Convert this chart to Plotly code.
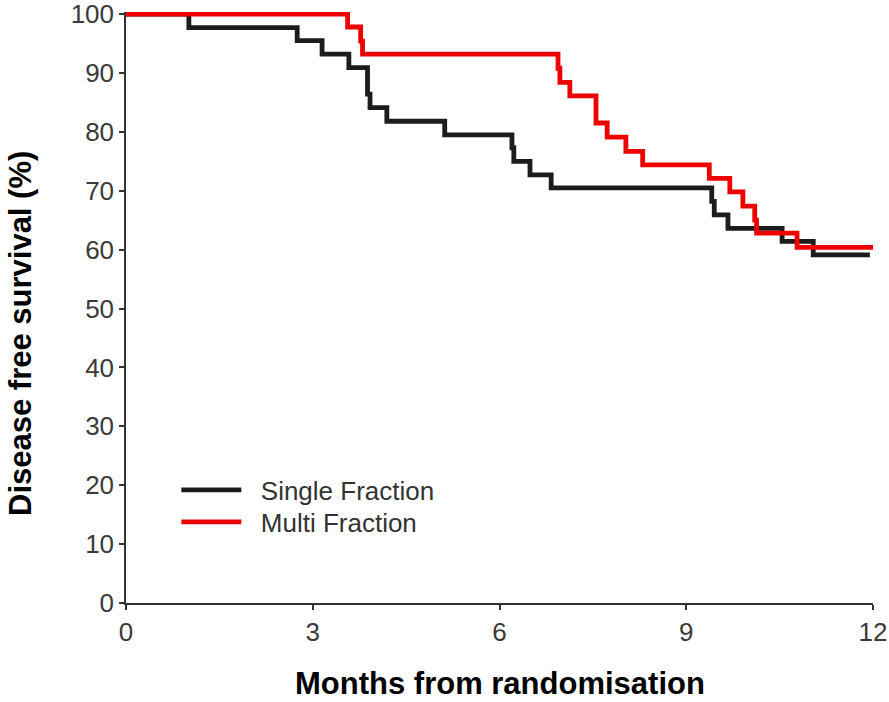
import plotly.graph_objects as go

# Kaplan-Meier step data (time in months, survival %)
single_time = [0, 1.01, 2.75, 3.15, 3.58, 3.88, 3.92, 4.19, 5.12, 6.20, 6.23, 6.49, 6.83, 9.41, 9.45, 9.67, 10.54, 11.04, 11.95]
single_surv = [100, 97.7, 95.5, 93.2, 90.9, 86.4, 84.1, 81.8, 79.5, 77.3, 75.0, 72.7, 70.5, 68.2, 65.9, 63.6, 61.4, 59.1, 59.1]

multi_time = [0, 3.56, 3.77, 3.80, 6.94, 6.97, 7.13, 7.55, 7.73, 8.03, 8.30, 9.37, 9.70, 9.91, 10.10, 10.13, 10.78, 12.0]
multi_surv = [100, 97.8, 95.4, 93.2, 90.8, 88.4, 86.1, 81.5, 79.1, 76.7, 74.4, 72.1, 69.8, 67.4, 65.0, 62.8, 60.4, 60.4]

series_names = ["Single Fraction", "Multi Fraction"]
x_ticks = [0, 3, 6, 9, 12]
y_ticks = [0, 10, 20, 30, 40, 50, 60, 70, 80, 90, 100]

FONT = "Liberation Sans, Arial, sans-serif"
NB = "\u00a0\u00a0"

fig = go.Figure()
fig.add_trace(go.Scatter(x=single_time, y=single_surv, mode="lines", line_shape="hv",
                         name=NB + series_names[0], legend="legend",
                         line=dict(color="#1c1c1c", width=4.8)))
fig.add_trace(go.Scatter(x=multi_time, y=multi_surv, mode="lines", line_shape="hv",
                         name=NB + series_names[1], legend="legend2",
                         line=dict(color="#ee0000", width=4.8)))

axis_common = dict(showgrid=False, zeroline=False, showline=True, linecolor="#333333", linewidth=1.5,
                   ticks="outside", ticklen=5, tickwidth=1.5, tickcolor="#333333",
                   ticklabeloverflow="allow", automargin=False,
                   tickfont=dict(family=FONT, size=26, color="#3a3a3a"))

fig.update_xaxes(range=[0, 12], tickvals=x_ticks, ticktext=[str(v) for v in x_ticks], **axis_common)
fig.update_yaxes(range=[0, 100.35], tickvals=y_ticks, ticktext=[str(v) for v in y_ticks], **axis_common)

leg_common = dict(xanchor="left", yanchor="middle",
                  font=dict(family=FONT, size=26, color="#333333"),
                  itemwidth=60, bgcolor="rgba(0,0,0,0)")

fig.update_layout(
    template="none",
    width=889, height=702,
    margin=dict(l=126, r=16, t=12, b=99, autoexpand=False),
    plot_bgcolor="white", paper_bgcolor="white",
    showlegend=True,
    legend=dict(x=0.0674, y=(603 - 490) / 591, **leg_common),
    legend2=dict(x=0.0674, y=(603 - 522) / 591, **leg_common),
    annotations=[
        dict(text="<b>Months from randomisation</b>", xref="paper", yref="paper",
             x=0.5, y=-(683 - 603) / 591, xanchor="center", yanchor="middle", showarrow=False,
             font=dict(family=FONT, size=31, color="black")),
        dict(text="<b>Disease free survival (%)</b>", xref="paper", yref="paper",
             x=-(126 - 21) / 747, y=(603 - 334) / 591, xanchor="center", yanchor="middle",
             textangle=-90, showarrow=False,
             font=dict(family=FONT, size=31, color="black")),
    ],
)

fig.write_html(
    "out.html",
    config={"displayModeBar": False},
    post_script="document.body.style.margin='0';document.body.style.overflow='hidden';"
                "document.documentElement.style.overflow='hidden';",
)
